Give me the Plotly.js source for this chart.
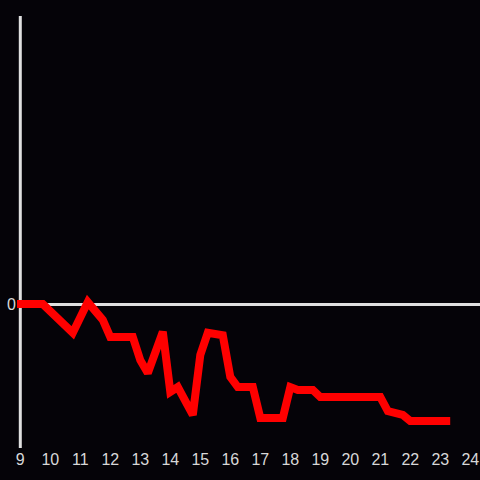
<!DOCTYPE html>
<html>
<head>
<meta charset="utf-8">
<script src="https://cdn.plot.ly/plotly-3.0.1.min.js"></script>
<style>html,body{margin:0;padding:0;background:#050308;}</style>
</head>
<body>
<div id="chart" style="width:480px;height:480px;"></div>
<script>
var hours = [8.88, 9.75, 10.75, 11.25, 11.75, 12, 12.75, 13, 13.25, 13.75, 14, 14.25, 14.75, 15, 15.25, 15.75, 16, 16.25, 16.75, 17, 17.75, 18, 18.25, 18.75, 19, 21, 21.25, 21.75, 22, 23.33];
var values = [0, 0, -0.6, 0.04, -0.33, -0.69, -0.69, -1.17, -1.44, -0.58, -1.83, -1.73, -2.31, -1.06, -0.6, -0.65, -1.52, -1.73, -1.73, -2.375, -2.375, -1.73, -1.79, -1.79, -1.94, -1.94, -2.23, -2.31, -2.44, -2.44];
var xTicks = [9,10,11,12,13,14,15,16,17,18,19,20,21,22,23,24];

Plotly.newPlot('chart', [{
  x: hours, y: values, type: 'scatter', mode: 'lines',
  line: {color: '#ff0000', width: 8}
}], {
  width: 480, height: 480,
  paper_bgcolor: '#050308', plot_bgcolor: '#050308',
  margin: {l: 17, r: 0, t: 16, b: 32},
  showlegend: false,
  font: {family: 'Liberation Sans, Arial, sans-serif', size: 16, color: '#d8d8d8'},
  xaxis: {range: [8.89, 24.323], tickvals: xTicks, ticktext: xTicks.map(String),
    showgrid: false, zeroline: false, showline: false, ticks: '', fixedrange: true},
  yaxis: {range: [-3, 6], tickvals: [0], ticktext: ['0'], showgrid: false,
    zeroline: true, zerolinecolor: '#e0e0e0', zerolinewidth: 3,
    showline: false, ticks: '', fixedrange: true},
  shapes: [{type: 'line', xref: 'x', yref: 'paper', x0: 9, x1: 9, y0: 0, y1: 1,
    line: {color: '#e0e0e0', width: 3}, layer: 'below'}]
}, {displayModeBar: false, staticPlot: true});
</script>
</body>
</html>
